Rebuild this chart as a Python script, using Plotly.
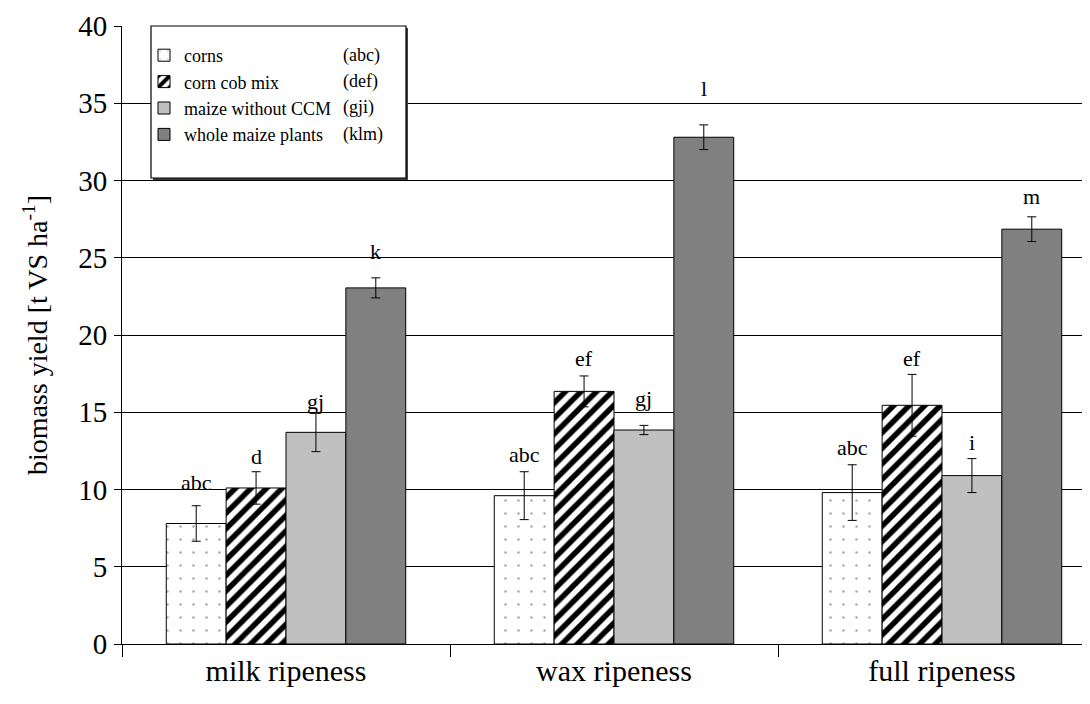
import plotly.graph_objects as go

# ---------------- data ----------------
stages = ["milk ripeness", "wax ripeness", "full ripeness"]
series_names = ["corns", "corn cob mix", "maize without CCM", "whole maize plants"]
series_codes = ["(abc)", "(def)", "(gji)", "(klm)"]

corns = [7.8, 9.6, 9.8]
corns_err = [1.15, 1.55, 1.8]
corn_cob_mix = [10.1, 16.35, 15.45]
corn_cob_mix_err = [1.05, 1.0, 2.0]
maize_without_ccm = [13.7, 13.85, 10.9]
maize_without_ccm_err = [1.25, 0.3, 1.1]
whole_maize = [23.05, 32.8, 26.85]
whole_maize_err = [0.65, 0.8, 0.8]

letters_corns = ["abc", "abc", "abc"]
letters_ccm = ["d", "ef", "ef"]
letters_wo = ["gj", "gj", "i"]
letters_whole = ["k", "l", "m"]

# ---------------- styling ----------------
FONT = "Liberation Serif"
values = [corns, corn_cob_mix, maize_without_ccm, whole_maize]
errors = [corns_err, corn_cob_mix_err, maize_without_ccm_err, whole_maize_err]
letters = [letters_corns, letters_ccm, letters_wo, letters_whole]
patterns = [
    dict(shape=".", bgcolor="white", fgcolor="#555555", size=13, solidity=0.03),
    dict(shape="/", bgcolor="white", fgcolor="black", fgopacity=1,
         size=11, solidity=0.5),
    dict(shape="", bgcolor="#c0c0c0"),
    dict(shape="", bgcolor="#808080"),
]
colors = ["white", "white", "#c0c0c0", "#808080"]
# pixel offsets of the letter labels above the error-bar tops
letter_shift = [[23, 17, 17], [15, 17, 16], [12, 27, 16], [26, 36, 20]]

W, H = 1090, 704
ML, MR, MT, MB = 114, 0, 18, 68
PW = W - ML - MR
PH = H - MT - MB
bargap = 0.27
xmax = -0.5 + PW / 328.0


def px_x(px):
    return (px - ML) / PW


def px_y(py):
    return (MT + PH - py) / PH


fig = go.Figure()
for i, name in enumerate(series_names):
    fig.add_trace(go.Bar(
        x=stages, y=values[i], name=name,
        marker=dict(color=colors[i], pattern=patterns[i],
                    line=dict(color="black", width=1)),
        error_y=dict(type="data", array=errors[i], visible=True,
                     color="black", thickness=1, width=4.5),
    ))

# significance letters
bw_units = (1 - bargap) / 4
annotations = []
for i in range(4):
    for j in range(3):
        annotations.append(dict(
            x=j + (i - 1.5) * bw_units, y=values[i][j] + errors[i][j],
            xref="x", yref="y", text=letters[i][j], showarrow=False,
            yanchor="middle", yshift=letter_shift[i][j],
            font=dict(family=FONT, size=22, color="black")))

# legend codes
row0, rowstep = 47, 26.4
for i, code in enumerate(series_codes):
    annotations.append(dict(
        x=px_x(333), y=px_y(row0 + i * rowstep), xref="paper", yref="paper",
        text=code, showarrow=False, xanchor="left", yanchor="middle",
        font=dict(family=FONT, size=18, color="black")))

shapes = [
    dict(type="rect", xref="paper", yref="paper", layer="above",
         x0=px_x(145), x1=px_x(400), y0=px_y(172), y1=px_y(20),
         line=dict(color="black", width=0), fillcolor="#404040"),
    dict(type="rect", xref="paper", yref="paper", layer="above",
         x0=px_x(143), x1=px_x(398), y0=px_y(170), y1=px_y(18),
         line=dict(color="black", width=1.2), fillcolor="white"),
]

fig.update_layout(
    width=W, height=H,
    margin=dict(l=ML, r=MR, t=MT, b=MB, autoexpand=False),
    paper_bgcolor="white", plot_bgcolor="white",
    barmode="group", bargap=bargap, bargroupgap=0,
    font=dict(family=FONT, color="black"),
    showlegend=True,
    legend=dict(x=px_x(136), y=px_y(29), xanchor="left", yanchor="top",
                bgcolor="rgba(0,0,0,0)", borderwidth=0,
                font=dict(family=FONT, size=18, color="black"),
                itemwidth=30, traceorder="normal"),
    annotations=annotations,
    shapes=shapes,
    xaxis=dict(type="category", range=[-0.5, xmax], showline=True,
               linecolor="black", linewidth=1, ticks="outside",
               tickson="boundaries", ticklen=12, tickcolor="black",
               tickfont=dict(family=FONT, size=30, color="black"),
               ticklabelstandoff=0, showgrid=False, zeroline=False),
    yaxis=dict(range=[0, 40], dtick=5, showgrid=True, gridcolor="black",
               gridwidth=1, showline=True, linecolor="black", linewidth=1,
               ticks="outside", ticklen=7, tickcolor="black",
               tickfont=dict(family=FONT, size=29, color="black"),
               ticklabelstandoff=1, zeroline=False,
               title=dict(text="biomass yield [t VS ha<sup>-1</sup>]",
                          font=dict(family=FONT, size=28, color="black"),
                          standoff=22)),
)

fig.write_html("out.html")
